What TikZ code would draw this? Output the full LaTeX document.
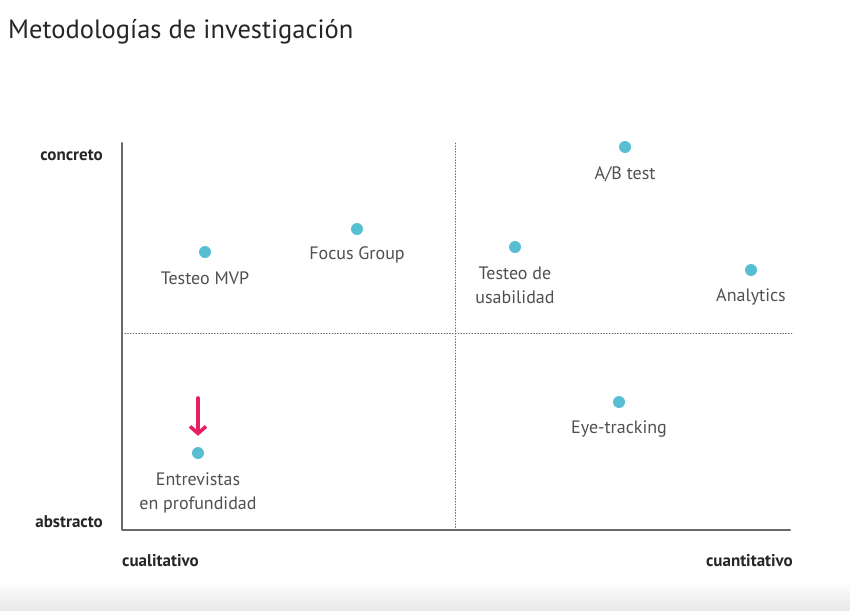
\documentclass[tikz,border=0pt]{standalone}
\usepackage{fontspec}
\setmainfont{PT Sans}
\usetikzlibrary{arrows.meta,positioning}
\definecolor{punto}{RGB}{88,190,210}
\definecolor{flecha}{RGB}{230,30,100}
\definecolor{texto}{RGB}{80,80,80}
\definecolor{linea}{RGB}{105,105,105}
\begin{document}
\begin{tikzpicture}[x=1pt,y=-1pt,line cap=round,line join=round,font=\fontsize{18}{24}\selectfont]
	\useasboundingbox (0,0) rectangle (850,610);
	\tikzset{
		punto/.style={circle,fill=punto,inner sep=0pt,minimum size=12pt},
		etiq/.style={text=texto,align=center,inner sep=0pt},
		ejetxt/.style={font=\fontsize{17}{19}\selectfont\bfseries,text=black!85,inner sep=0pt}
	}
	\shade[top color=white,bottom color=black!9] (0,582) rectangle (850,610);
	\node[anchor=west,inner sep=0pt,text=black!85,font=\fontsize{26.5}{30}\selectfont] (titulo) at (8,32) {Metodologías de investigación};
	% ejes y cuadrantes
	\coordinate (o) at (122,530);
	\coordinate (arriba) at (122,143);
	\coordinate (der) at (790,530);
	\draw[linea,dotted,line width=0.8pt] (122,333) -- (792,333);
	\draw[linea,dotted,line width=0.8pt] (455,143) -- (455,530);
	\draw[linea,line width=2.2pt] (arriba) -- (o) -- (der);
	\node[ejetxt,anchor=east] (concreto) at (103,155) {concreto};
	\node[ejetxt,anchor=east] (abstracto) at (103,522) {abstracto};
	\node[ejetxt,anchor=west] (cualit) at (122,561) {cualitativo};
	\node[ejetxt,anchor=east] (cuantit) at (793,561) {cuantitativo};
	% metodologias
	\foreach \n/\x/\y/\ty/\t in {mvp/205/252/278/{Testeo MVP},focus/357/229/255/{Focus Group},ab/625/147/174/{A/B test},usab/515/247/285/{Testeo de\\usabilidad},analytics/751/270/297/{Analytics},eye/619/402/429/{Eye-tracking},entrev/198/453/493/{Entrevistas\\en profundidad}}{
		\node[punto] (\n) at (\x,\y) {};
		\node[etiq] (\n-t) at (\x,\ty) {\t};
	}
	\coordinate (flechaini) at (198,398);
	\draw[flecha,line width=3.6pt,-{Straight Barb[length=7pt,width=16pt]}] (flechaini) -- ([yshift=11pt]entrev.north);
\end{tikzpicture}
\end{document}
